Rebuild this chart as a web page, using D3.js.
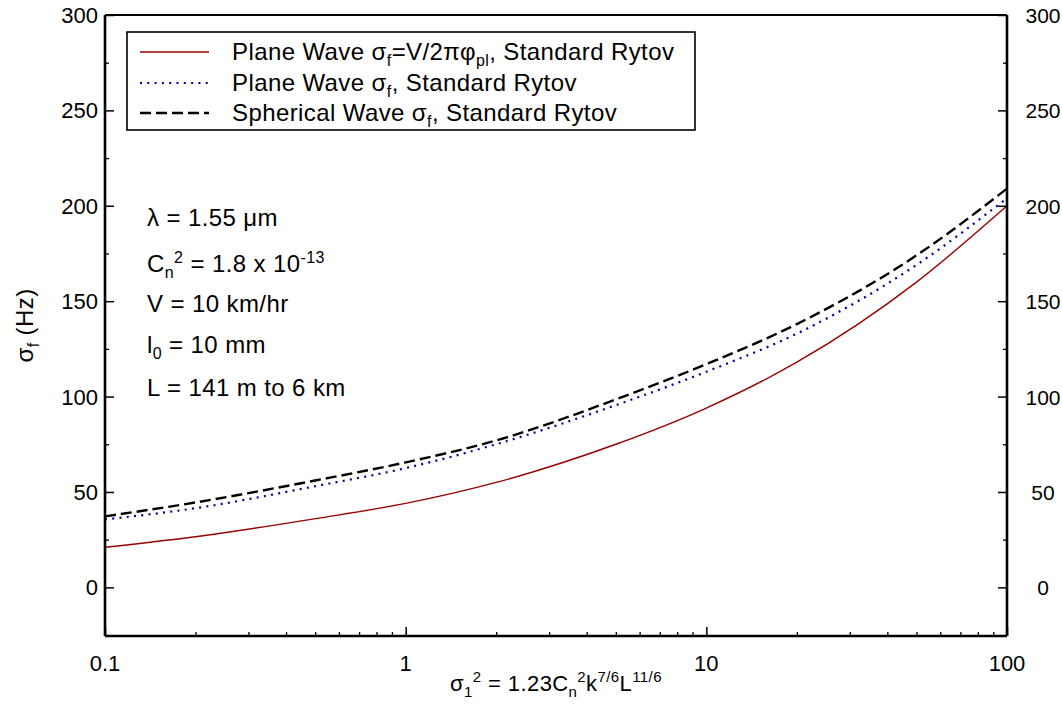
<!DOCTYPE html>
<html>
<head>
<meta charset="utf-8">
<script src="https://cdn.jsdelivr.net/npm/d3@7"></script>
<style>
  body { margin: 0; background: #fff; }
  svg { font-family: "Liberation Sans", Arial, sans-serif; }
</style>
</head>
<body>
<svg id="chart"></svg>
<script>
// values
const xs = [0.1, 0.2, 0.5, 1, 2, 5, 10, 20, 50, 100];
const redPlane = [21, 26.5, 36, 44, 55, 75, 94, 118, 160, 200];
const bluePlane = [35.6, 41.5, 53, 62.5, 75, 95.5, 113, 133, 169, 204];
const blackSpherical = [37.2, 44.5, 56, 65.5, 77, 98.5, 117, 138, 174, 209];
const yTicks = [0, 50, 100, 150, 200, 250, 300];
const yMinor = [-25, 25, 75, 125, 175, 225, 275];
const xTicks = [0.1, 1, 10, 100];

const width = 1062;
const height = 704;
const marginLeft = 105;
const marginRight = 55;
const marginTop = 15;
const marginBottom = 68;

const x = d3.scaleLog([0.1, 100], [marginLeft, width - marginRight]);
const y = d3.scaleLinear([-25.5, 300], [height - marginBottom, marginTop]);

const svg = d3.select("svg#chart")
  .attr("width", width)
  .attr("height", height)
  .attr("viewBox", [0, 0, width, height]);

const line = d3.line()
  .x(d => x(d[0]))
  .y(d => y(d[1]))
  .curve(d3.curveMonotoneX);

const series = [
  { vals: redPlane, color: "#990000", width: 1.4, dash: null },
  { vals: bluePlane, color: "#000099", width: 2.2, dash: "2,5.3" },
  { vals: blackSpherical, color: "#000000", width: 2.4, dash: "11,5" },
];

for (let s of series) {
  svg.append("path")
    .attr("fill", "none")
    .attr("stroke", s.color)
    .attr("stroke-width", s.width)
    .attr("stroke-dasharray", s.dash)
    .attr("d", line(xs.map((v, i) => [v, s.vals[i]])));
}

// frame
const x0 = x.range()[0], x1 = x.range()[1];
const y0 = y.range()[0], y1 = y.range()[1];
svg.append("line").attr("x1", x0).attr("x2", x1).attr("y1", y1).attr("y2", y1)
  .attr("stroke", "#000").attr("stroke-width", 2);

// left axis
svg.append("g")
  .attr("transform", `translate(${x0},0)`)
  .call(d3.axisRight(y).tickValues(yTicks).tickSize(9).tickFormat(""))
  .call(g => g.select(".domain").attr("stroke-width", 2.6).attr("d", `M0,${y0}V${y1}`))
  .call(g => g.selectAll(".tick line").attr("stroke-width", 1.5));
svg.append("g")
  .attr("transform", `translate(${x0},0)`)
  .call(d3.axisRight(y).tickValues(yMinor).tickSize(4).tickFormat(""))
  .call(g => g.select(".domain").remove())
  .call(g => g.selectAll(".tick line").attr("stroke-width", 1.3));

// right axis
svg.append("g")
  .attr("transform", `translate(${x1},0)`)
  .call(d3.axisLeft(y).tickValues(yTicks).tickSize(9).tickFormat(""))
  .call(g => g.select(".domain").attr("stroke-width", 2.6).attr("d", `M0,${y0}V${y1}`))
  .call(g => g.selectAll(".tick line").attr("stroke-width", 1.5));
svg.append("g")
  .attr("transform", `translate(${x1},0)`)
  .call(d3.axisLeft(y).tickValues(yMinor).tickSize(4).tickFormat(""))
  .call(g => g.select(".domain").remove())
  .call(g => g.selectAll(".tick line").attr("stroke-width", 1.3));

// bottom axis
const xMinor = [];
for (let d = 0.1; d < 100; d *= 10) {
  for (let k = 2; k <= 9; k++) xMinor.push(+(d * k).toPrecision(3));
}
svg.append("g")
  .attr("transform", `translate(0,${y0})`)
  .call(d3.axisTop(x).tickValues(xTicks).tickSize(9).tickFormat(""))
  .call(g => g.select(".domain").attr("stroke-width", 2.6).attr("d", `M${x0},0H${x1}`))
  .call(g => g.selectAll(".tick line").attr("stroke-width", 1.5));
svg.append("g")
  .attr("transform", `translate(0,${y0})`)
  .call(d3.axisTop(x).tickValues(xMinor).tickSize(4).tickFormat(""))
  .call(g => g.select(".domain").remove())
  .call(g => g.selectAll(".tick line").attr("stroke-width", 1.3));

// tick labels
const fs = 22;
const fsText = 24;
svg.append("g").selectAll("text").data(yTicks).join("text")
  .attr("x", x0 - 7).attr("y", d => y(d) + 8)
  .attr("text-anchor", "end").attr("font-size", fs).text(d => d);
svg.append("g").selectAll("text").data(yTicks).join("text")
  .attr("x", x1 + 36).attr("y", d => y(d) + 8)
  .attr("text-anchor", "middle").attr("font-size", 21).text(d => d);
svg.append("g").selectAll("text").data(xTicks).join("text")
  .attr("x", d => x(d)).attr("y", y0 + 35)
  .attr("text-anchor", "middle").attr("font-size", fs).text(d => d);

function addRich(g, xPos, yPos, parts, size, anchor) {
  const t = g.append("text").attr("x", xPos).attr("y", yPos)
    .attr("font-size", size).attr("letter-spacing", 0.4)
    .attr("text-anchor", anchor || "start");
  let shift = 0;
  for (let p of parts) {
    const target = p.sub ? 6 : p.sup ? -9 : 0;
    t.append("tspan").attr("dy", target - shift)
      .attr("font-size", p.sub || p.sup ? Math.round(size * 0.68) : size).text(p.t);
    shift = target;
  }
  return t;
}

// axis titles
const yTitle = svg.append("g").attr("transform", `translate(33,${(y0 + y1) / 2}) rotate(-90)`);
addRich(yTitle, 0, 0, [{ t: "\u03c3" }, { t: "f", sub: true }, { t: " (Hz)" }], fsText, "middle");

addRich(svg, (x0 + x1) / 2, 691, [
  { t: "\u03c3" }, { t: "1", sub: true }, { t: "2", sup: true }, { t: " = 1.23C" },
  { t: "n", sub: true }, { t: "2", sup: true }, { t: "k" }, { t: "7/6", sup: true },
  { t: "L" }, { t: "11/6", sup: true }], fs, "middle");

// legend
const legend = svg.append("g");
legend.append("rect")
  .attr("x", 127).attr("y", 32).attr("width", 568).attr("height", 98)
  .attr("fill", "#fff").attr("stroke", "#000").attr("stroke-width", 1.6);
const legendRows = [52, 83, 113];
series.forEach((s, i) => {
  legend.append("line")
    .attr("x1", 140).attr("x2", 209).attr("y1", legendRows[i]).attr("y2", legendRows[i])
    .attr("stroke", s.color).attr("stroke-width", s.width)
    .attr("stroke-dasharray", s.dash);
});
addRich(legend, 232, legendRows[0] + 8, [
  { t: "Plane Wave \u03c3" }, { t: "f", sub: true }, { t: "=V/2\u03c0\u03c6" },
  { t: "pl", sub: true }, { t: ", Standard Rytov" }], fsText);
addRich(legend, 232, legendRows[1] + 8, [
  { t: "Plane Wave \u03c3" }, { t: "f", sub: true }, { t: ", Standard Rytov" }], fsText);
addRich(legend, 232, legendRows[2] + 8, [
  { t: "Spherical Wave \u03c3" }, { t: "f", sub: true }, { t: ", Standard Rytov" }], fsText);

// annotations
const notes = svg.append("g");
addRich(notes, 147, 226, [{ t: "\u03bb = 1.55 \u03bcm" }], fsText);
addRich(notes, 147, 272, [{ t: "C" }, { t: "n", sub: true }, { t: "2", sup: true }, { t: " = 1.8 x 10" }, { t: "-13", sup: true }], fsText);
addRich(notes, 147, 312, [{ t: "V = 10 km/hr" }], fsText);
addRich(notes, 147, 353, [{ t: "l" }, { t: "0", sub: true }, { t: " = 10 mm" }], fsText);
addRich(notes, 147, 396, [{ t: "L = 141 m to 6 km" }], fsText);
</script>
</body>
</html>
